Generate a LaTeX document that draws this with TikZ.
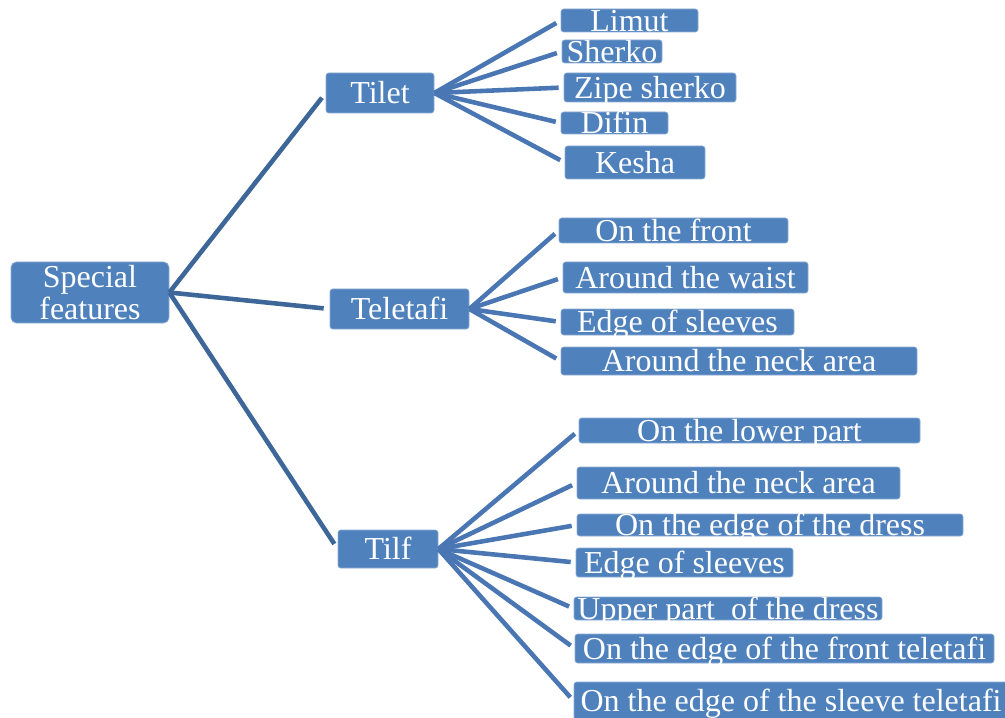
\documentclass[tikz,border=0pt]{standalone}
\usepackage{fontspec}
\setmainfont{Liberation Serif}
\definecolor{boxblue}{HTML}{4F81BD}
\definecolor{trunkline}{HTML}{3D6699}
\definecolor{twigline}{HTML}{4A77B4}

\begin{document}
\begin{tikzpicture}[
    box/.style={fill=boxblue,draw=boxblue!65!white,line width=0.4pt,rounded corners=1.5pt,
        inner sep=0pt,text=white,font=\fontsize{18.2}{18.5}\selectfont,
        text height=0.425cm,text depth=0pt},
    trunk/.style={trunkline,line width=2.6pt,shorten >=0.12cm},
    twig/.style={twigline,line width=2.6pt,shorten >=0.1cm}]
    \useasboundingbox (0,0) rectangle (20.1,14.34);

    % Root
    \node[box,text height=,text depth=,align=center,rounded corners=3pt,
        minimum width=3.16cm,minimum height=1.22cm] (special) at (1.80,8.49) {Special\\features};

    % Middle level
    \node[box,minimum width=2.16cm,minimum height=0.80cm] (tilet) at (7.60,12.48) {Tilet};
    \node[box,minimum width=2.78cm,minimum height=0.80cm] (teletafi) at (7.99,8.16) {Teletafi};
    \node[box,minimum width=2.00cm,minimum height=0.76cm] (tilf) at (7.76,3.36) {Tilf};

    % Tilet leaves
    \node[box,minimum width=2.74cm,minimum height=0.46cm] (limut) at (12.59,13.93) {Limut};
    \node[box,minimum width=2.00cm,minimum height=0.46cm] (sherko) at (12.24,13.31) {Sherko};
    \node[box,minimum width=3.44cm,minimum height=0.58cm] (zipe) at (13.00,12.59) {Zipe sherko};
    \node[box,minimum width=2.14cm,minimum height=0.44cm] (difin) at (12.29,11.88) {Difin};
    \node[box,minimum width=2.80cm,minimum height=0.66cm] (kesha) at (12.70,11.09) {Kesha};

    % Teletafi leaves
    \node[box,minimum width=4.58cm,minimum height=0.50cm] (front) at (13.47,9.73) {On the front};
    \node[box,minimum width=4.90cm,minimum height=0.62cm] (waist) at (13.71,8.79) {Around the waist};
    \node[box,minimum width=4.66cm,minimum height=0.52cm] (sleevea) at (13.55,7.90) {Edge of sleeves};
    \node[box,minimum width=7.12cm,minimum height=0.56cm] (necka) at (14.78,7.12) {Around the neck area};

    % Tilf leaves
    \node[box,minimum width=6.82cm,minimum height=0.50cm] (lower) at (14.99,5.73) {On the lower part};
    \node[box,minimum width=6.46cm,minimum height=0.64cm] (neckb) at (14.77,4.68) {Around the neck area};
    \node[box,minimum width=7.72cm,minimum height=0.44cm] (dress) at (15.40,3.84) {On the edge of the dress};
    \node[box,minimum width=4.34cm,minimum height=0.58cm] (sleeveb) at (13.69,3.09) {Edge of sleeves};
    \node[box,minimum width=6.16cm,minimum height=0.46cm] (upper) at (14.56,2.17) {Upper part~ of the dress};
    \node[box,minimum width=8.38cm,minimum height=0.58cm] (frontt) at (15.69,1.37) {On the edge of the front teletafi};
    \node[box,minimum width=8.68cm,minimum height=0.76cm] (sleevet) at (15.82,0.32) {On the edge of the sleeve teletafi};

    % Connectors
    \foreach \c in {tilet,teletafi,tilf}
        \draw[trunk] (special.east) -- (\c.west);
    \foreach \c in {limut,sherko,zipe,difin,kesha}
        \draw[twig] (tilet.east) -- (\c.west);
    \foreach \c in {front,waist,sleevea,necka}
        \draw[twig] (teletafi.east) -- (\c.west);
    \foreach \c in {lower,neckb,dress,sleeveb,upper,frontt,sleevet}
        \draw[twig] (tilf.east) -- (\c.west);
\end{tikzpicture}
\end{document}
